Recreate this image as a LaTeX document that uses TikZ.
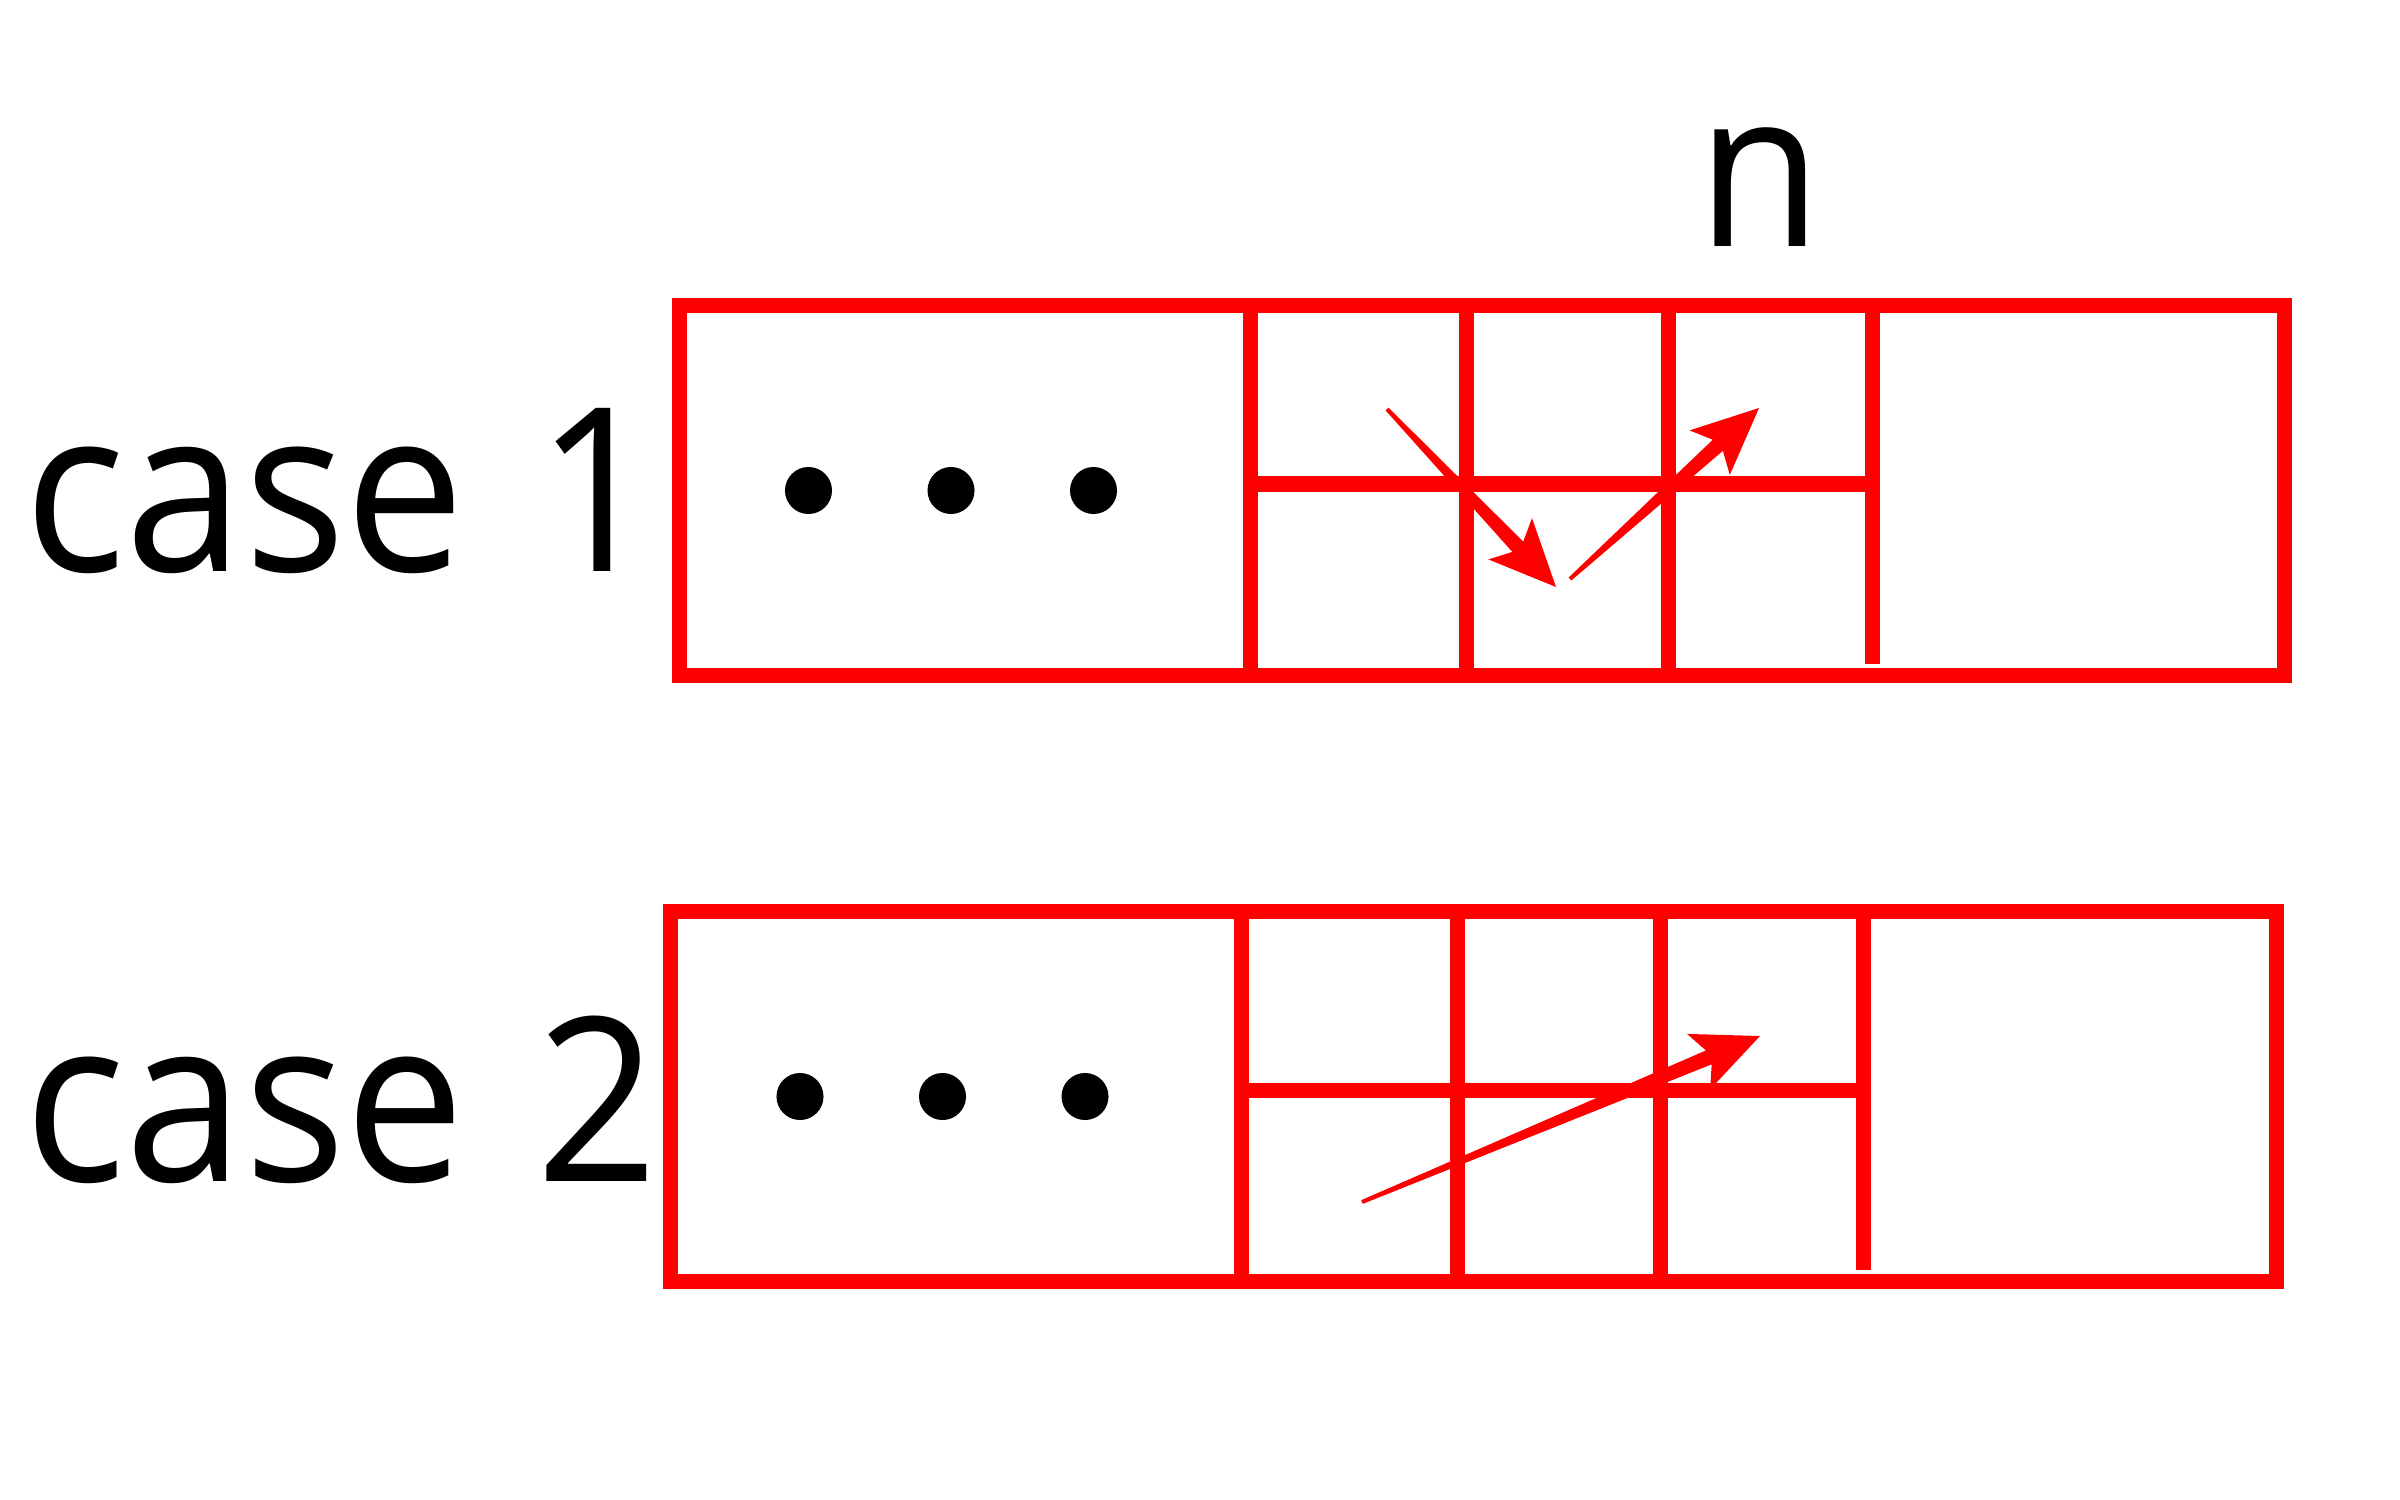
\documentclass[tikz,border=0pt]{standalone}
\usepackage{fontspec}
\usepackage{tikz}
\usetikzlibrary{calc}
\newfontfamily\labelfont[FakeStretch=0.93,WordSpace=1.3]{Open Sans}
\definecolor{tred}{HTML}{FF0000}
\tikzset{
  tapebox/.style ={draw=tred,line width=0.15cm,line join=miter},
  tapeline/.style={draw=tred,line width=0.15cm},
  arrowred/.style={fill=tred,draw=none},
  lbl/.style     ={font=\labelfont\fontsize{65}{78}\selectfont,text=black,inner sep=0pt},
}
\newcommand{\tapeframe}[1]{%
\begin{scope}[shift={#1}]
 \draw[tapebox] (679,305.5) rectangle (2284.5,675);
 \draw[tapeline] (1250,305.5) -- (1250,675);
 \draw[tapeline] (1466,305.5) -- (1466,675);
 \draw[tapeline] (1668.5,313) -- (1668.5,667.5);
 \draw[tapeline] (1872,298) -- (1872,663.5);
 \draw[tapeline,line cap=rect] (1250,484) -- (1872,484);
 \foreach \x in {808.5,951,1093.5}
   {\fill[black] (\x,490.5) circle (0.235cm);}
\end{scope}}
\newcommand{\taperarrow}[2]{%
 \path ($(#2)!0.665cm!(#1)$) coordinate (hd) ($(#2)!0.555cm!(#1)$) coordinate (nk);
 \fill[arrowred] ($(#1)!0.02cm!-90:(#2)$) -- ($(nk)!0.075cm!-90:(#2)$)
   -- ($(hd)!0.3cm!-90:(#2)$) -- (#2) -- ($(hd)!0.3cm!90:(#2)$)
   -- ($(nk)!0.075cm!90:(#2)$) -- ($(#1)!0.02cm!90:(#2)$) -- cycle;}
\begin{document}
\begin{tikzpicture}[x=0.01cm,y=-0.01cm]
 \useasboundingbox (0,0) rectangle (2400,1500);
 \tapeframe{(0,0)}
 \tapeframe{(-8.5,606)}
 \node[lbl,anchor=base west] (case1) at (24,571) {case 1};
 \node[lbl,anchor=base west] (case2) at (24,1181) {case 2};
 \node[lbl,font=\labelfont\fontsize{62}{74}\selectfont,anchor=base] (nlbl) at (1760,247) {n};
 \coordinate (a1s) at (1387,409);
 \coordinate (a1t) at (1556,587);
 \coordinate (a2s) at (1570,579);
 \coordinate (a2t) at (1759,408);
 \coordinate (b1s) at (1362,1202);
 \coordinate (b1t) at (1760,1036);
 \taperarrow{a1s}{a1t}
 \taperarrow{a2s}{a2t}
 \taperarrow{b1s}{b1t}
\end{tikzpicture}
\end{document}
